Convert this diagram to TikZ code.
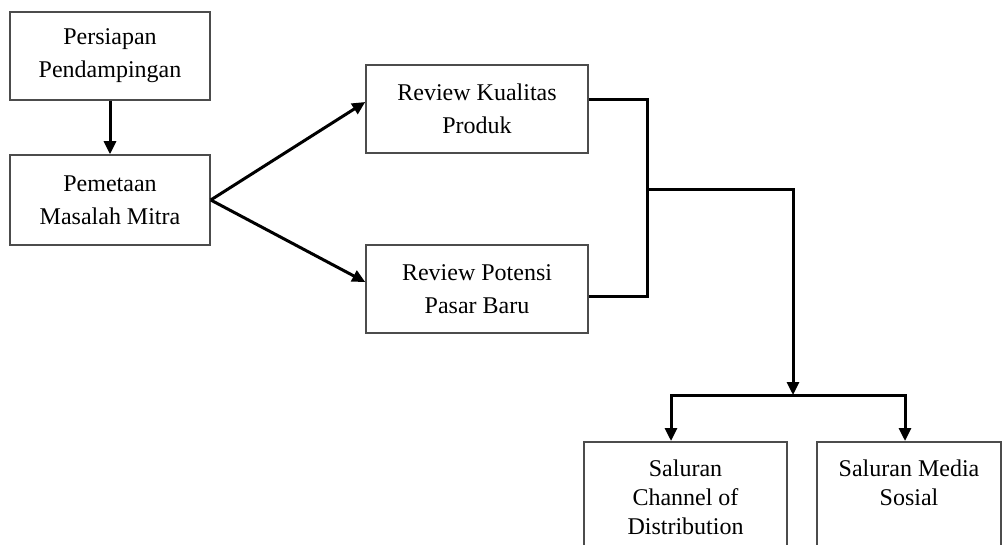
\documentclass[tikz,border=0pt]{standalone}
\usepackage{fontspec}
\setmainfont{Liberation Serif}
\usetikzlibrary{arrows.meta}
\tikzset{
	box/.style={draw=black!70, line width=1.5pt, align=center, inner sep=0pt, font=\fontsize{24}{33}\selectfont},
	lowbox/.style={box, anchor=north, inner ysep=4pt, text depth=80pt, font=\fontsize{24}{29}\selectfont},
	link/.style={line width=3pt, -{Triangle[length=13pt,width=12pt]}},
	bar/.style={line width=3pt}
}

\begin{document}
\begin{tikzpicture}[x=1pt,y=-1pt]
			%%%%% START %%%%%
			
			\useasboundingbox (0, 0) rectangle (1004, 545);
			\clip (0, 0) rectangle (1004, 545);
			
			\node[box, minimum width=200pt, minimum height=88pt] (persiapan) at (110, 56) {Persiapan\\Pendampingan};
			\node[box, minimum width=200pt, minimum height=90pt] (pemetaan) at (110, 200) {Pemetaan\\Masalah Mitra};
			
			\node[box, minimum width=222pt, minimum height=88pt] (kualitas) at (477, 109) {Review Kualitas\\Produk};
			\node[box, minimum width=222pt, minimum height=88pt] (pasar) at (477, 289) {Review Potensi\\Pasar Baru};
			
			% last baseline sits text height below the top edge
			\node[lowbox, minimum width=203pt, text height=89pt] (channel) at (685.5, 441) {Saluran\\Channel of\\Distribution};
			\node[lowbox, minimum width=184pt, text height=60pt] (medsos) at (909, 441) {Saluran Media\\Sosial};
			
			\draw[link] (persiapan) -- (pemetaan);
			\draw[link] (pemetaan.east) -- ([yshift=7pt]kualitas.west);
			\draw[link] (pemetaan.east) -- ([yshift=7pt]pasar.west);
			
			% bracket joining the two reviews
			\coordinate (join) at (647, 190);
			\coordinate (split) at (793, 395);
			\draw[bar] ([yshift=9pt]kualitas.east) -| (join) |- ([yshift=-8pt]pasar.east);
			\draw[bar] (join) -| (793, 300);
			\draw[link] (793, 200) -- (split);
			
			\draw[bar, line cap=rect] ([xshift=-14.5pt]channel.north |- split) -- ([xshift=-4pt]medsos.north |- split);
			\draw[link] ([xshift=-14.5pt]channel.north |- split) -- ([xshift=-14.5pt]channel.north);
			\draw[link] ([xshift=-4pt]medsos.north |- split) -- ([xshift=-4pt]medsos.north);
			
			%%%%% END %%%%%
\end{tikzpicture}
\end{document}
